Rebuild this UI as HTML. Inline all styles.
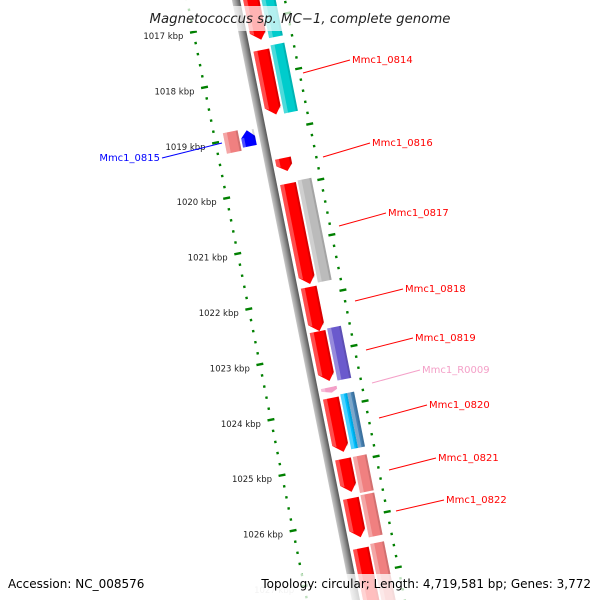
<!DOCTYPE html>
<html><head><meta charset="utf-8"><style>
html,body{margin:0;padding:0;background:#fff;overflow:hidden;width:600px;height:600px;}
svg{display:block;font-family:"DejaVu Sans","Liberation Sans",sans-serif;}
</style></head><body>
<svg id="chart" width="600" height="600" viewBox="0 0 600 600" xmlns="http://www.w3.org/2000/svg">
<defs>
<linearGradient id="bb" x1="0" x2="1" y1="0" y2="0">
<stop offset="0" stop-color="#c8c8c8"/><stop offset="0.45" stop-color="#9a9a9a"/><stop offset="1" stop-color="#555"/>
</linearGradient>
<clipPath id="frame"><rect x="0" y="0" width="600" height="600"/></clipPath>
</defs>
<g clip-path="url(#frame)">
<g id="track" transform="translate(236,0) rotate(-11.3)"></g>
<g id="labels"></g>
</g>
<rect x="144" y="6" width="312" height="25" fill="#fff" opacity="0.7"/>
<text x="300" y="23" text-anchor="middle" font-size="13.3" font-style="italic" fill="#222">Magnetococcus sp. MC−1, complete genome</text>
<rect x="0" y="574" width="600" height="26" fill="#fff" opacity="0.75"/>
<text x="8" y="588" font-size="12" fill="#000">Accession: NC_008576</text>
<text x="591" y="588" text-anchor="end" font-size="12" fill="#000">Topology: circular; Length: 4,719,581 bp; Genes: 3,772</text>
</svg>
<script>
const kbpTicks = [1017,1018,1019,1020,1021,1022,1023,1024,1025,1026,1027];
const geneNames = ["top-partial","Mmc1_0814","Mmc1_0815","Mmc1_0816","Mmc1_0817","Mmc1_0818","Mmc1_0819","Mmc1_R0009","Mmc1_0820","Mmc1_0821","Mmc1_0822","bottom-partial"];
const geneStart = [1016.42,1017.55,1018.89,1019.50,1019.96,1021.83,1022.63,1023.64,1023.83,1024.93,1025.64,1026.54];
const geneEnd   = [1017.37,1018.72,1019.18,1019.74,1021.78,1022.63,1023.53,1023.74,1024.81,1025.53,1026.35,1027.92];
const geneStrand= [1,1,-1,1,1,1,1,1,1,1,1,1];
const geneColor = ["#ff0000","#ff0000","#0000ff","#ff0000","#ff0000","#ff0000","#ff0000","#f4a0c8","#ff0000","#ff0000","#ff0000","#ff0000"];
const featStart = [1016.24,1017.50,1018.86,1019.94,1022.61,1023.80,1023.80,1024.93,1025.62,1026.50];
const featEnd   = [1017.37,1018.73,1019.23,1021.78,1023.55,1024.79,1024.79,1025.58,1026.38,1027.92];
const featColor = ["#00cccc","#00cccc","#f08080","#bbbbbb","#6a5acd","#00bfff","#4682b4","#f08080","#f08080","#f08080"];
const featStrand= [1,1,-1,1,1,1,1,1,1,1];
const featPart  = [0,0,0,0,0,1,2,0,0,0];

const NS="http://www.w3.org/2000/svg";
const track=document.getElementById('track');
const K0=1017, Y0=23, PX=56.5;
function ly(k){return Y0+(k-K0)*PX;}
function mk(tag,attrs,parent){const e=document.createElementNS(NS,tag);for(const a in attrs)e.setAttribute(a,attrs[a]);(parent||track).appendChild(e);return e;}

let bb=mk('rect',{x:-4,y:-60,width:8,height:680,fill:'url(#bb)'});



for(const side of [-48,48]){
  for(let k=1016.2;k<=1027.8;k+=0.2){
    const r=Math.round((k-K0)*5)/5;
    const isMajor=Math.abs(r-Math.round(r))<0.01;
    const y=ly(K0+r);
    let d;
    if(isMajor){
      d=mk('rect',{x:side-3.5,y:y-1.2,width:7,height:2.4,fill:'#008000'});
      
    } else {
      d=mk('rect',{x:side-1.2,y:y-1.2,width:2.4,height:2.4,fill:'#008000'});
      
    }
    
  }
}
const lab=document.getElementById('labels');
const th=-11.3*Math.PI/180;
function toScreen(lx,lyv){return [236+lx*Math.cos(th)-lyv*Math.sin(th), lx*Math.sin(th)+lyv*Math.cos(th)];}
kbpTicks.forEach(k=>{
  const p=toScreen(-48,ly(k));
  const t=mk('text',{x:p[0]-10,y:p[1]+7,'text-anchor':'end','font-size':'8.5',fill:k===1027?'#ccc':'#222'},lab);
  t.textContent=k+' kbp';
  
  
});

geneNames.forEach((n,i)=>{
  const a=ly(geneStart[i]), b=ly(geneEnd[i]);
  let x0,x1,pts,hl;
  if(geneStrand[i]>0){x0=7;x1=23;
    const tip=Math.min(8,(b-a)*0.5);
    pts=[[x0,a],[x1,a],[x1,b-tip],[ (x0+x1)/2+2,b],[x0,b-tip]];
    hl=[[x0,a],[x0+4,a],[x0+4,b-tip+2],[x0,b-tip]];
  } else {x0=-22;x1=-8;
    const tip=Math.min(7,(b-a)*0.5);
    pts=[[x0,b],[x1,b],[x1,a+tip],[(x0+x1)/2,a],[x0,a+tip]];
    hl=[[x0,b],[x0+3,b],[x0+3,a+tip],[x0,a+tip]];
  }
  const g=mk('g',{});
  
  
  mk('polygon',{points:pts.map(p=>p.join(',')).join(' '),fill:geneColor[i]},g);
  mk('polygon',{points:hl.map(p=>p.join(',')).join(' '),fill:'#fff',opacity:0.3},g);
  mk('polygon',{points:[[x1-2,a],[x1,a],[x1,b-6],[x1-2,b-5]].map(p=>p.join(',')).join(' '),fill:'#000',opacity:0.15},g);
});

featStart.forEach((s,i)=>{
  const a=ly(s), b=ly(featEnd[i]);
  let x0,w;
  if(featStrand[i]>0){x0=25;w=14;} else {x0=-39;w=15;}
  if(featPart[i]===1){w=7;} else if(featPart[i]===2){x0=32;w=7;}
  const g=mk('g',{});
  
  
  mk('rect',{x:x0,y:a,width:w,height:b-a,fill:featColor[i]},g);
  mk('rect',{x:x0,y:a,width:Math.min(4,w/2),height:b-a,fill:'#fff',opacity:0.3},g);
  mk('rect',{x:x0+w-2,y:a,width:2,height:b-a,fill:'#000',opacity:0.12},g);
});

const labelText=["Mmc1_0814","Mmc1_0815","Mmc1_0816","Mmc1_0817","Mmc1_0818","Mmc1_0819","Mmc1_R0009","Mmc1_0820","Mmc1_0821","Mmc1_0822"];
const labelColor=["#f00","#00f","#f00","#f00","#f00","#f00","#f4a0c8","#f00","#f00","#f00"];
const labelLine=[[303,73,350,60],[162,158,222,143],[323,157,370,143],[339,226,386,213],[355,301,403,289],[366,350,413,338],[372,383,420,370],[379,418,427,405],[389,470,436,458],[396,511,444,500]];
labelText.forEach((t,i)=>{
  const L=labelLine[i];
  const ln=mk('line',{x1:L[0],y1:L[1],x2:L[2],y2:L[3],stroke:labelColor[i],'stroke-width':1},lab);
  
  
  const left=i===1;
  const tx=mk('text',{x:left?L[0]-2:L[2]+2,y:left?L[1]+3:L[3]+3,'font-size':'10','text-anchor':left?'end':'start',fill:labelColor[i]},lab);
  tx.textContent=t;
  
  
});
</script>
</body></html>
